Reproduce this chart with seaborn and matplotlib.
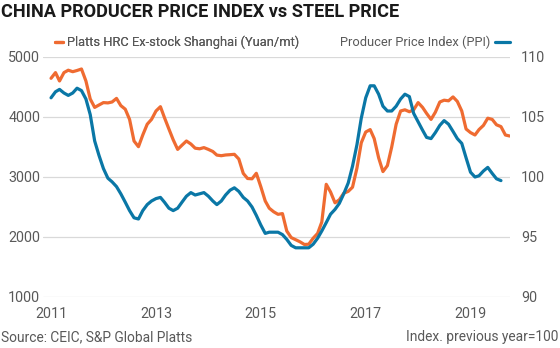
import matplotlib
matplotlib.use("Agg")
import matplotlib.pyplot as plt
from matplotlib import font_manager
import seaborn as sns
import pandas as pd

# Monthly series, Jan 2011 onward
hrc_price = [
    4645, 4740, 4600, 4740, 4780, 4755, 4775, 4800, 4600, 4300, 4160, 4200,
    4240, 4235, 4250, 4310, 4190, 4130, 3960, 3600, 3505, 3700, 3880, 3960,
    4100, 4172, 3990, 3800, 3620, 3460, 3530, 3600, 3550, 3480, 3470, 3490,
    3460, 3425, 3365, 3355, 3367, 3372, 3378, 3300, 3060, 2975, 2970, 3062,
    2840, 2600, 2480, 2420, 2378, 2390, 2100, 1990, 1955, 1920, 1875, 1880,
    1980, 2060, 2250, 2878, 2750, 2570, 2620, 2730, 2760, 2830, 3150, 3570,
    3750, 3790, 3640, 3320, 3090, 3190, 3500, 3880, 4100, 4120, 4088, 4120,
    4240, 4160, 4060, 3960, 4080, 4250, 4280, 4270, 4335, 4260, 4100, 3800,
    3740, 3700, 3790, 3860, 3980, 3960, 3870, 3840, 3700, 3683,
]
ppi = [
    106.6, 107.1, 107.3, 107.0, 106.8, 107.0, 107.4, 107.2, 106.5, 105.2, 103.0, 101.8,
    100.7, 99.9, 99.6, 99.2, 98.6, 97.9, 97.2, 96.6, 96.5, 97.2, 97.7, 98.0,
    98.2, 98.3, 97.9, 97.4, 97.2, 97.4, 97.9, 98.4, 98.7, 98.5, 98.6, 98.7,
    98.4, 98.0, 97.7, 98.0, 98.5, 98.9, 99.1, 98.8, 98.3, 98.0, 97.5, 96.8,
    96.0, 95.3, 95.4, 95.4, 95.4, 95.2, 94.8, 94.3, 94.1, 94.1, 94.1, 94.1,
    94.4, 94.9, 95.5, 96.2, 96.9, 97.3, 97.8, 98.6, 99.5, 100.9, 102.7, 104.9,
    106.6, 107.6, 107.6, 106.9, 105.9, 105.5, 105.5, 105.9, 106.5, 106.9, 106.7, 105.3,
    104.6, 103.9, 103.3, 103.2, 103.7, 104.3, 104.7, 104.4, 103.8, 103.2, 102.8, 101.6,
    100.4, 100.0, 100.1, 100.5, 100.8, 100.3, 99.85, 99.7,
]
year_ticks = [2011, 2013, 2015, 2017, 2019]
price_ticks = [1000, 2000, 3000, 4000, 5000]
ppi_ticks = [90, 95, 100, 105, 110]

hrc_df = pd.DataFrame({
    "date": pd.date_range("2011-01-01", periods=len(hrc_price), freq="MS"),
    "price": hrc_price,
})
ppi_df = pd.DataFrame({
    "date": pd.date_range("2011-01-01", periods=len(ppi), freq="MS"),
    "ppi": ppi,
})

ORANGE = "#ef6b31"
BLUE = "#0a77a6"
GREY_TEXT = "#595959"

sns.set_theme(style="white")
available = {f.name for f in font_manager.fontManager.ttflist}
body_font = "Roboto" if "Roboto" in available else "DejaVu Sans"
plt.rcParams["font.family"] = [body_font, "DejaVu Sans"]

fig = plt.figure(figsize=(5.6, 3.48), dpi=100)
ax = fig.add_axes([43 / 560, 1 - 297 / 348, (510 - 43) / 560, (297 - 57) / 348])
ax2 = ax.twinx()

sns.lineplot(data=hrc_df, x="date", y="price", ax=ax, color=ORANGE, linewidth=2.3,
             label="Platts HRC Ex-stock Shanghai (Yuan/mt)", legend=False)
sns.lineplot(data=ppi_df, x="date", y="ppi", ax=ax2, color=BLUE, linewidth=2.3,
             label="Producer Price Index (PPI)", legend=False)

ax.set_xlim(pd.Timestamp("2010-11-06"), pd.Timestamp("2019-10-03"))
ax.set_ylim(price_ticks[0], price_ticks[-1])
ax2.set_ylim(ppi_ticks[0], ppi_ticks[-1])
ax.set_yticks(price_ticks)
ax2.set_yticks(ppi_ticks)
ax.set_xticks([pd.Timestamp(f"{y}-01-01") for y in year_ticks])
ax.set_xticklabels([str(y) for y in year_ticks])

ax.grid(axis="y", color="#d9d9d9", linewidth=0.9)
ax.grid(axis="x", visible=False)
ax2.grid(False)
ax.set_axisbelow(True)
for a in (ax, ax2):
    for s in a.spines.values():
        s.set_visible(False)
    a.set_xlabel("")
    a.set_ylabel("")
ax.tick_params(axis="y", length=0, pad=2, labelsize=10.3, labelcolor=GREY_TEXT)
ax.tick_params(axis="x", length=0, pad=7, labelsize=10.3, labelcolor=GREY_TEXT)
ax2.tick_params(axis="y", length=0, pad=8, labelsize=10.3, labelcolor=GREY_TEXT)

h1, l1 = ax.get_legend_handles_labels()
h2, l2 = ax2.get_legend_handles_labels()
leg1 = ax.legend(h1, l1, loc="lower left", bbox_to_anchor=(0.026, 1.032), frameon=False,
                 handlelength=0.65, handletextpad=0.3, borderpad=0, borderaxespad=0,
                 prop={"size": 9.25}, labelcolor=GREY_TEXT)
ax.add_artist(leg1)
leg2 = ax2.legend(h2, l2, loc="lower right", bbox_to_anchor=(1.0, 1.032), frameon=False,
                  handlelength=1.15, handletextpad=0.35, borderpad=0, borderaxespad=0,
                  markerfirst=False, prop={"size": 9.25}, labelcolor=GREY_TEXT)

fig.text(0.002, 1 - 17.3 / 348, "CHINA PRODUCER PRICE INDEX vs STEEL PRICE", fontsize=13.1,
         fontweight="bold", color="#1a1a1a", ha="left", va="baseline")
fig.text(0.002, 0.031, "Source: CEIC, S&P Global Platts", fontsize=9.9,
         color=GREY_TEXT, ha="left", va="center")
fig.text(0.997, 0.031, "Index. previous year=100", fontsize=9.9,
         color=GREY_TEXT, ha="right", va="center")

fig.savefig("out.png", dpi=100, facecolor="white")
